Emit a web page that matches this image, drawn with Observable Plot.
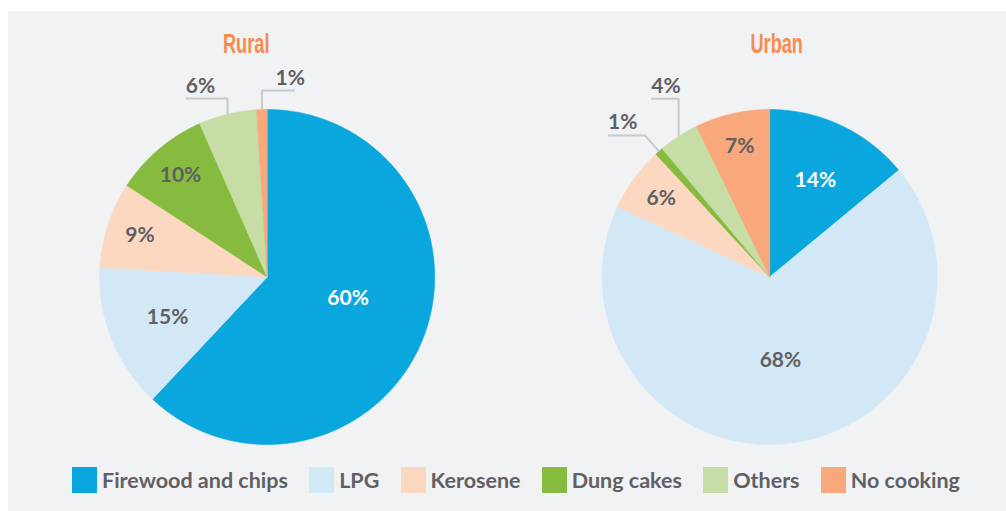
<!DOCTYPE html>
<html>
<head>
<meta charset="utf-8">
<script src="https://cdn.jsdelivr.net/npm/d3@7"></script>
<script src="https://cdn.jsdelivr.net/npm/@observablehq/plot@0.6"></script>
<style>
  html, body { margin: 0; padding: 0; background: #ffffff; width: 1006px; height: 511px; overflow: hidden; }
  #panel { position: absolute; left: 8px; top: 11px; width: 998px; height: 500px; background: #f1f2f4; }
  #chart { position: absolute; left: 0; top: 0; }
  #legend { position: absolute; left: 72px; top: 467px; width: 888px; display: flex; justify-content: space-between; align-items: center;
            font-family: Lato, sans-serif; font-weight: 700; font-size: 21.5px; color: #606064; }
  .item { display: flex; align-items: center; }
  .sw { width: 25px; height: 26px; margin-right: 5px; }
</style>
</head>
<body>
<div id="panel"></div>
<div id="chart"></div>
<div id="legend"></div>
<script>
// ---- data ----
const categories = ["Firewood and chips", "LPG", "Kerosene", "Dung cakes", "Others", "No cooking"];
const regions = ["Rural", "Urban"];
const ruralShares = [62.0, 13.9, 8.3, 9.2, 5.6, 1.0];
const urbanShares = [14.0, 67.9, 6.2, 0.8, 3.9, 7.2];
const ruralLabels = ["60%", "15%", "9%", "10%", "6%", "1%"];
const urbanLabels = ["14%", "68%", "6%", "1%", "4%", "7%"];
const colors = ["#09a7de", "#d3e8f6", "#fdd8c0", "#87bb3f", "#c6dea5", "#f8a87b"];

// ---- layout ----
const W = 1006, H = 460;
const R = 167.5;            // px per unit radius
const cxPx = 266.7, cyPx = 276.5;
const pieGap = 3;           // distance between pie centres, in radii
const textGray = "#606064";
const titleShiftPx = [-21, 7];
const titleWidthPx = [46.5, 52.5];
const labelAngleFrac = {"Rural|Firewood and chips": 0.47};
const calloutLayout = {
  "Rural|Others":     {elbow: "vertical", to: 1.065, run: -0.25, anchor: "start"},
  "Rural|No cooking": {elbow: "vertical", to: 1.113, run: 0.197, anchor: "end"},
  "Urban|Others":     {elbow: "vertical", to: 1.064, run: -0.163, anchor: "start"},
  "Urban|Dung cakes": {elbow: "radial", ext: 0.127, run: -0.22, anchor: "start"}
};

const pie = d3.pie().sort(null).value(d => d);
const slicePoints = [], insideLabels = [], leaderPoints = [], calloutLabels = [];

regions.forEach((region, ri) => {
  const shares = ri === 0 ? ruralShares : urbanShares;
  const labels = ri === 0 ? ruralLabels : urbanLabels;
  const ox = ri * pieGap;
  pie(shares).forEach((arc, i) => {
    const cat = categories[i];
    const id = region + "|" + cat;
    const span = arc.endAngle - arc.startAngle;
    const n = Math.max(2, Math.ceil(span / 0.01));
    slicePoints.push({id, cat, x: ox, y: 0});
    for (let k = 0; k <= n; k++) {
      const a = arc.startAngle + span * k / n;
      slicePoints.push({id, cat, x: ox + Math.sin(a), y: Math.cos(a)});
    }
    slicePoints.push({id, cat, x: ox, y: 0});
    const share = shares[i];
    const mid = arc.startAngle + span * (labelAngleFrac[id] ?? 0.5);
    const co = calloutLayout[id];
    if (co) {
      const p0 = {x: ox + Math.sin(mid), y: Math.cos(mid)};
      const p1 = co.elbow === "vertical"
        ? {x: p0.x, y: co.to}
        : {x: p0.x + co.ext * Math.sin(mid), y: p0.y + co.ext * Math.cos(mid)};
      const p2 = {x: p1.x + co.run, y: p1.y};
      [p0, p1, p2].forEach(p => leaderPoints.push({id, ...p}));
      calloutLabels.push({x: p2.x, y: p2.y, text: labels[i], anchor: co.anchor});
    } else {
      const r = share > 50 ? 0.5 : share >= 12 ? 0.64 : 0.8;
      insideLabels.push({x: ox + r * Math.sin(mid), y: r * Math.cos(mid), text: labels[i], white: i === 0});
    }
  });
});

const titles = regions.map((t, i) => ({text: t, x: i * pieGap + titleShiftPx[i] / R, y: (cyPx - 44) / R}));

const pctFont = {fontFamily: "Lato, sans-serif", fontWeight: 700, fontSize: 21};

const chart = Plot.plot({
  width: W, height: H, margin: 0,
  style: {background: "transparent", overflow: "visible"},
  x: {domain: [-cxPx / R, (W - cxPx) / R], axis: null},
  y: {domain: [-(H - cyPx) / R, cyPx / R], axis: null},
  color: {domain: categories, range: colors},
  marks: [
    Plot.line(slicePoints, {x: "x", y: "y", z: "id", fill: "cat", stroke: "cat", strokeWidth: 0.6, curve: "linear"}),
    Plot.line(leaderPoints, {x: "x", y: "y", z: "id", stroke: "#c8c9cb", strokeWidth: 2, strokeLinecap: "butt", strokeLinejoin: "miter"}),
    Plot.text(insideLabels.filter(d => d.white), {x: "x", y: "y", text: "text", fill: "white", ...pctFont}),
    Plot.text(insideLabels.filter(d => !d.white), {x: "x", y: "y", text: "text", fill: textGray, ...pctFont}),
    Plot.text(calloutLabels.filter(d => d.anchor === "start"), {x: "x", y: "y", text: "text", fill: textGray, textAnchor: "start", lineAnchor: "bottom", dy: -6, ...pctFont}),
    Plot.text(calloutLabels.filter(d => d.anchor === "end"), {x: "x", y: "y", text: "text", fill: textGray, textAnchor: "end", lineAnchor: "bottom", dx: 10, dy: -6, ...pctFont}),
    Plot.text(titles, {x: "x", y: "y", text: "text", fill: "#f58b4f", fontFamily: "'Liberation Sans Narrow', sans-serif", fontWeight: 700, fontSize: 27})
  ]
});
// condense the title lettering to match the narrow display face of the original
d3.select(chart).selectAll("text").each(function () {
  const i = regions.indexOf(this.textContent);
  if (i >= 0) d3.select(this).attr("textLength", titleWidthPx[i]).attr("lengthAdjust", "spacingAndGlyphs");
});
document.getElementById("chart").appendChild(chart);

const legend = document.getElementById("legend");
categories.forEach((c, i) => {
  const item = document.createElement("div");
  item.className = "item";
  const sw = document.createElement("div");
  sw.className = "sw";
  sw.style.background = colors[i];
  const label = document.createElement("span");
  label.textContent = c;
  item.appendChild(sw);
  item.appendChild(label);
  legend.appendChild(item);
});
</script>
</body>
</html>
